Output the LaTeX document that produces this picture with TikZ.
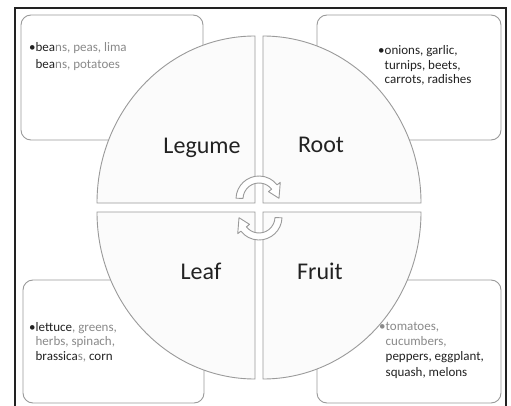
\documentclass[tikz,border=0pt]{standalone}
\usepackage{fontspec}
\setmainfont{Carlito}
\usepackage{xcolor}
\definecolor{dk}{HTML}{222222}
\definecolor{lt}{HTML}{8A8A8A}
\definecolor{edge}{HTML}{9A9A9A}
\definecolor{qfill}{HTML}{FBFBFB}
\begin{document}
\begin{tikzpicture}[x=1pt,y=1pt,
  boxst/.style={draw=edge,line width=0.9pt,rounded corners=10pt,fill=white},
  quad/.style={draw=edge,line width=0.9pt,fill=qfill},
  biglabel/.style={font=\fontsize{24}{28}\selectfont,text=dk,inner sep=0pt,anchor=base},
  smalltxt/.style={font=\fontsize{13}{14.5}\selectfont,inner sep=0pt,anchor=north west,align=left,text=dk},
  cyc/.style={draw=edge,line width=0.9pt,fill=white,line join=round}]
\useasboundingbox (0,0) rectangle (511,405);
\fill[white] (0,0) rectangle (511,405);
% outer frame
\draw[line width=2.5pt,color=dk] (15,-2) -- (15,397) -- (506,397) -- (506,-2);
% boxes
\path[boxst] (21,265) rectangle (203,390);
\path[boxst] (317,265) rectangle (501,390);
\path[boxst] (23,2) rectangle (204,125);
\path[boxst] (317,2) rectangle (501,125);
% quadrants
\path[quad] (255,202) -- (255,369) arc[start angle=90,end angle=180,x radius=158pt,y radius=167pt] -- cycle;
\path[quad] (263,202) -- (421,202) arc[start angle=0,end angle=90,x radius=158pt,y radius=167pt] -- cycle;
\path[quad] (255,193) -- (97,193) arc[start angle=180,end angle=270,x radius=158pt,y radius=167pt] -- cycle;
\path[quad] (263,193) -- (263,26) arc[start angle=270,end angle=360,x radius=158pt,y radius=167pt] -- cycle;
% circular arrows
\coordinate (ca) at (259,206);
\coordinate (cb) at (259,188);
\path[cyc] ([shift={(ca)}]178:23pt) arc[start angle=178,end angle=38,radius=23pt]
  -- ([shift={(ca)}]38:27pt) -- ([shift={(ca)}]2:20pt) -- ([shift={(ca)}]38:12pt)
  -- ([shift={(ca)}]38:16pt) arc[start angle=38,end angle=178,radius=16pt] -- cycle;
\path[cyc] ([shift={(cb)}]-2:23pt) arc[start angle=-2,end angle=-142,radius=23pt]
  -- ([shift={(cb)}]-142:27pt) -- ([shift={(cb)}]-178:20pt) -- ([shift={(cb)}]-142:12pt)
  -- ([shift={(cb)}]-142:16pt) arc[start angle=-142,end angle=-2,radius=16pt] -- cycle;
% labels
\node[biglabel] (legume) at (202,251.5) {Legume};
\node[biglabel] (root) at (321,252) {Root};
\node[biglabel] (leaf) at (201,126) {Leaf};
\node[biglabel] (fruit) at (320,126) {Fruit};
% box texts
\node[smalltxt,font=\fontsize{13}{16.5}\selectfont] (tltext) at (29,363.5)
  {\rule{0pt}{10pt}\textcolor{dk}{•bea}\textcolor{lt}{ns, peas, lima}\\
   \phantom{•}\textcolor{dk}{bea}\textcolor{lt}{ns, potatoes}};
\node[smalltxt] (trtext) at (378,360.3)
  {\rule{0pt}{10pt}•onions, garlic,\\
   \phantom{•}turnips, beets,\\
   \phantom{•}carrots, radishes};
\node[smalltxt] (bltext) at (29,84)
  {\rule{0pt}{10pt}•lettuce\textcolor{lt}{, greens,}\\
   \phantom{•}\textcolor{lt}{herbs, spinach,}\\
   \phantom{•}brassica\textcolor{lt}{s,} corn};
\node[smalltxt,font=\fontsize{13}{15.3}\selectfont] (brtext) at (379,85)
  {\rule{0pt}{10pt}\textcolor{lt}{•tomatoes,}\\
   \phantom{•}\textcolor{lt}{cucumbers,}\\
   \phantom{•}peppers, eggplant,\\
   \phantom{•}squash, melons};
\end{tikzpicture}
\end{document}
